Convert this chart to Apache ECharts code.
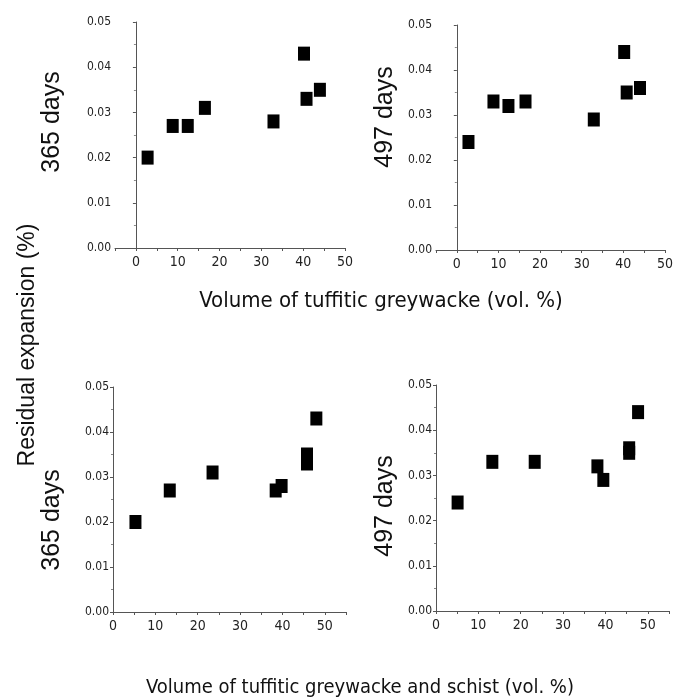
<!DOCTYPE html>
<html>
<head>
<meta charset="utf-8">
<script src="https://cdn.jsdelivr.net/npm/echarts@6/dist/echarts.min.js"></script>
<style>
html, body { margin: 0; padding: 0; background: #fff; }
#chart { width: 676px; height: 699px; }
</style>
</head>
<body>
<div id="chart"></div>
<script>
// greywacke only: volume (vol. %) vs residual expansion (%)
var greyX = [2.8, 8.8, 12.4, 16.5, 32.9, 40.2, 40.8, 44.0];
var grey365 = [0.020, 0.027, 0.027, 0.031, 0.028, 0.043, 0.033, 0.035];
var grey497 = [0.024, 0.033, 0.032, 0.033, 0.029, 0.044, 0.035, 0.036];
// greywacke + schist
var schistX365 = [5.3, 13.4, 23.5, 38.4, 39.8, 45.8, 45.8, 48.0];
var schist365 = [0.020, 0.027, 0.031, 0.027, 0.028, 0.035, 0.033, 0.043];
var schistX497 = [5.1, 13.3, 23.3, 38.1, 39.5, 45.6, 45.6, 47.7];
var schist497 = [0.024, 0.033, 0.033, 0.032, 0.029, 0.036, 0.035, 0.044];

var panelNames = ['365 days', '497 days', '365 days', '497 days'];
var xTitleTop = 'Volume of tuffitic greywacke (vol. %)';
var xTitleBottom = 'Volume of tuffitic greywacke and schist (vol. %)';
var yTitle = 'Residual expansion (%)';

var narrow = "'Liberation Sans Narrow', 'Arial Narrow', 'DejaVu Sans Condensed', sans-serif";
var plain = "'Liberation Sans', Arial, sans-serif";

function pairUp(xs, ys) {
	var out = [];
	for (var i = 0; i < xs.length; i++) {
		out.push([xs[i], ys[i]]);
	}
	return out;
}

var grids = [
	{ left: 115, top: 22, width: 230, height: 226 },
	{ left: 436, top: 25, width: 232, height: 225 },
	{ left: 113, top: 387, width: 233, height: 225 },
	{ left: 436, top: 385, width: 233, height: 226 }
];
var xRanges = [[-5, 50], [-5, 50], [0, 55], [0, 55]];
// centre of each panel's "days" label
var namePos = [[52, 122], [385, 117], [52, 520], [385, 506]];

var axisLine = { lineStyle: { color: '#555', width: 1 } };
var xAxes = [];
var yAxes = [];
for (var i = 0; i < 4; i++) {
	xAxes.push({
		gridIndex: i,
		type: 'value',
		min: xRanges[i][0],
		max: xRanges[i][1],
		interval: 5,
		axisLine: axisLine,
		axisTick: { length: 3, lineStyle: { color: '#555' } },
		splitLine: { show: false },
		axisLabel: {
			color: '#222',
			fontFamily: narrow,
			fontSize: 14,
			margin: 7,
			formatter: function (v) { return v % 10 === 0 ? String(v) : ''; }
		}
	});
	yAxes.push({
		gridIndex: i,
		type: 'value',
		min: 0,
		max: 0.05,
		interval: 0.01,
		axisLine: Object.assign({ show: true }, axisLine),
		axisTick: { show: true, length: 3, lineStyle: { color: '#555' } },
		minorTick: { show: true, splitNumber: 2, length: 2, lineStyle: { color: '#888' } },
		splitLine: { show: false },
		axisLabel: {
			color: '#222',
			fontFamily: narrow,
			fontSize: 12,
			margin: 4,
			formatter: function (v) { return v.toFixed(2); }
		}
	});
}

var seriesData = [
	pairUp(greyX, grey365),
	pairUp(greyX, grey497),
	pairUp(schistX365, schist365),
	pairUp(schistX497, schist497)
];
var series = [];
for (var i = 0; i < 4; i++) {
	series.push({
		type: 'scatter',
		xAxisIndex: i,
		yAxisIndex: i,
		symbol: 'rect',
		symbolSize: [12, 14],
		itemStyle: { color: '#000', opacity: 1 },
		data: seriesData[i]
	});
}

var texts = [
	{
		type: 'text', x: 28, y: 345, rotation: Math.PI / 2,
		style: { text: yTitle, font: '23px ' + plain, fill: '#111', align: 'center', verticalAlign: 'middle' }
	},
	{
		type: 'text', x: 381, y: 301,
		style: { text: xTitleTop, font: '22px ' + narrow, fill: '#111', align: 'center', verticalAlign: 'middle' }
	},
	{
		type: 'text', x: 360, y: 688,
		style: { text: xTitleBottom, font: '20px ' + narrow, fill: '#111', align: 'center', verticalAlign: 'middle' }
	}
];
for (var i = 0; i < 4; i++) {
	texts.push({
		type: 'text', x: namePos[i][0], y: namePos[i][1], rotation: Math.PI / 2,
		style: { text: panelNames[i], font: '25px ' + plain, fill: '#111', align: 'center', verticalAlign: 'middle' }
	});
}

var chart = echarts.init(document.getElementById('chart'));
chart.setOption({
	animation: false,
	backgroundColor: '#fff',
	grid: grids,
	xAxis: xAxes,
	yAxis: yAxes,
	series: series,
	graphic: texts
});
</script>
</body>
</html>
